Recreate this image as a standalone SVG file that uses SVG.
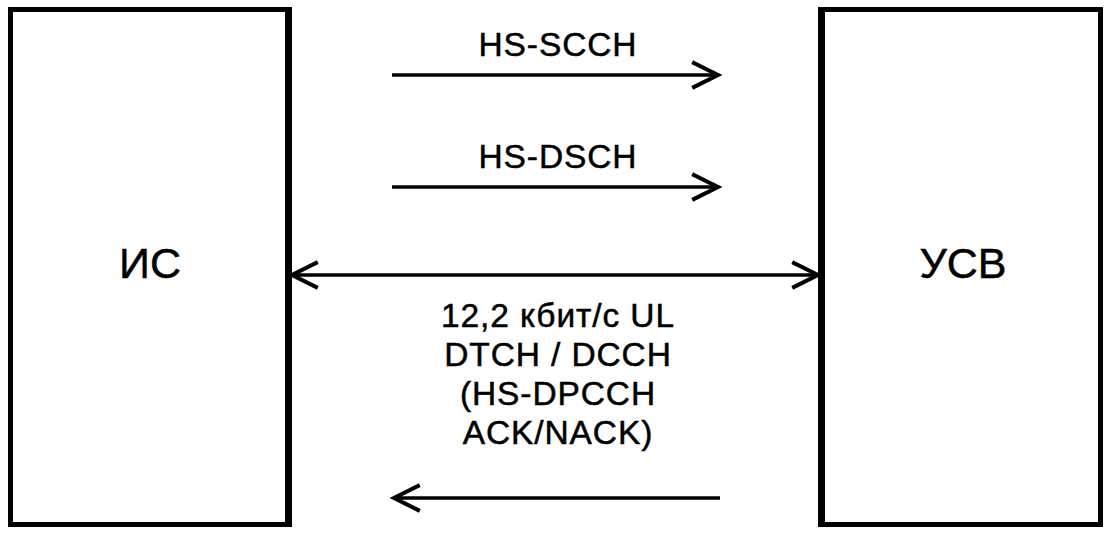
<svg xmlns="http://www.w3.org/2000/svg" width="1109" height="544" viewBox="0 0 1109 544">
<style>
.box{fill:#fff;stroke:#000;stroke-width:5}
.edge{stroke:#000;stroke-width:7}
.lbl{font-family:"Liberation Sans",Arial,sans-serif;font-size:33.5px;letter-spacing:0.9px;text-anchor:middle;fill:#000;stroke:#000;stroke-width:0.5}
.big{font-family:"Liberation Sans",Arial,sans-serif;font-size:43px;text-anchor:middle;fill:#000;stroke:#000;stroke-width:0.5}
.ln{stroke:#000;stroke-width:3.5;fill:none}
.hd{stroke:#000;stroke-width:4;fill:none;stroke-linecap:square}
</style>
<rect width="1109" height="544" fill="#fff"/>
<g id="node-is">
<rect class="box" x="10.5" y="9.5" width="278" height="515"/>
<line class="edge" x1="288.5" y1="7" x2="288.5" y2="527"/>
<text class="big" x="150" y="278">ИС</text>
</g>
<g id="node-usv">
<rect class="box" x="821.5" y="9.5" width="279" height="515"/>
<line class="edge" x1="821.5" y1="7" x2="821.5" y2="527"/>
<text class="big" x="963" y="278">УСВ</text>
</g>
<g id="connectors">
<line class="ln" x1="392" y1="75" x2="718" y2="75"/>
<polyline class="hd" points="694,63 718,75 694,87"/>
<line class="ln" x1="392" y1="187" x2="718" y2="187"/>
<polyline class="hd" points="694,175 718,187 694,199"/>
<line class="ln" x1="292" y1="275" x2="818" y2="275"/>
<polyline class="hd" points="316,263 292,275 316,287"/>
<polyline class="hd" points="794,263 818,275 794,287"/>
<line class="ln" x1="394" y1="498" x2="720" y2="498"/>
<polyline class="hd" points="418,486 394,498 418,510"/>
</g>
<g id="labels">
<text class="lbl" x="558" y="56">HS-SCCH</text>
<text class="lbl" x="558" y="168">HS-DSCH</text>
<text class="lbl" x="558" y="327">12,2 кбит/с UL</text>
<text class="lbl" x="558" y="366">DTCH / DCCH</text>
<text class="lbl" x="558" y="405">(HS-DPCCH</text>
<text class="lbl" x="558" y="444">ACK/NACK)</text>
</g>
</svg>
